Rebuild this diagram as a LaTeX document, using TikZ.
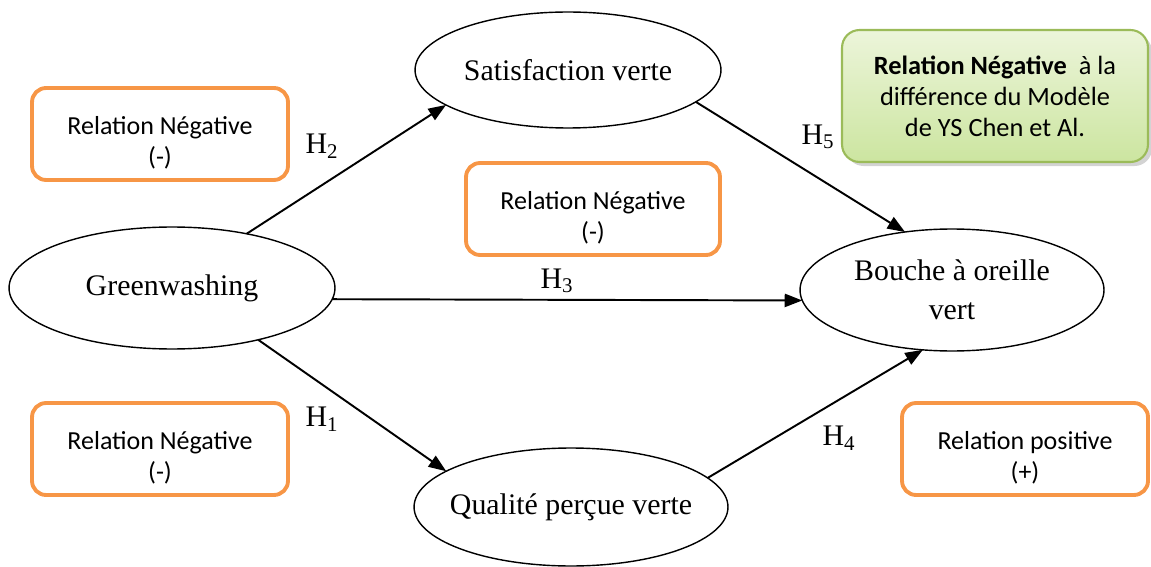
\documentclass[tikz,border=0pt]{standalone}
\usepackage{fontspec}
\setmainfont{Liberation Serif}
\newfontfamily\calibri{Carlito}
\usetikzlibrary{arrows.meta,shapes.geometric,shadows}
\definecolor{relorange}{RGB}{247,150,70}
\definecolor{vertbord}{RGB}{155,187,89}
\definecolor{verthaut}{RGB}{236,245,218}
\definecolor{vertbas}{RGB}{204,229,160}
\begin{document}
\begin{tikzpicture}[x=0.02cm, y=-0.02cm, >={Triangle[length=10pt,width=7.5pt]},
        var/.style={draw, ellipse, line width=0.8pt, inner sep=0pt, outer sep=0pt, align=center, font=\fontsize{17}{22}\selectfont},
        rel/.style={draw=relorange, line width=2.2pt, rounded corners=8pt, minimum width=#1, minimum height=1.84cm, align=center, font=\calibri\fontsize{14.8}{17.5}\selectfont},
        hyp/.style={font=\fontsize{17}{20}\selectfont},
        lien/.style={->, line width=1.1pt}]
        \useasboundingbox (0,0) rectangle (1151,567);

        % variables
        \node[var, minimum width=6.52cm, minimum height=2.44cm] (gw) at (172,288) {Greenwashing};
        \node[var, minimum width=6.12cm, minimum height=2.32cm] (sat) at (568,70) {Satisfaction verte};
        \node[var, minimum width=6.08cm, minimum height=2.44cm] (bao) at (952,290) {Bouche à oreille\\vert};
        \node[var, inner xsep=-8pt, minimum width=6.28cm, minimum height=2.36cm] (qual) at (571,507) {Qualité perçue verte};

        % cadres des relations
        \node[rel=5.12cm] (rel1) at (160,134) {\rule{0pt}{20pt}Relation Négative\\(-)};
        \node[rel=5.08cm] (rel2) at (593,209) {\rule{0pt}{20pt}Relation Négative\\(-)};
        \node[rel=5.12cm] (rel3) at (160,449) {\rule{0pt}{20pt}Relation Négative\\(-)};
        \node[rel=4.92cm] (rel4) at (1025,449) {\rule{0pt}{20pt}Relation positive\\(+)};
        \node[draw=vertbord, line width=1.2pt, rounded corners=10pt, top color=verthaut, bottom color=vertbas,
            drop shadow={opacity=0.35}, minimum width=6.12cm, minimum height=2.64cm, align=center,
            font=\calibri\fontsize{15}{17.6}\selectfont] (note) at (995,96)
            {\textbf{Relation Négative}~~à la\\différence du Modèle\\de YS Chen et Al.};

        % hypotheses
        \draw[lien] (gw.36) -- (sat.196);
        \draw[lien] (sat.-14) -- (bao.129);
        \draw[lien] (gw.-4) -- (bao.184);
        \draw[lien] (gw.-31) -- (qual.164);
        \draw[lien] (qual.12) -- (bao.244);

        \node[hyp] (h2) at (322,146) {H\textsubscript{2}};
        \node[hyp] (h5) at (818,137) {H\textsubscript{5}};
        \node[hyp] (h3) at (557,281) {H\textsubscript{3}};
        \node[hyp] (h1) at (322,419) {H\textsubscript{1}};
        \node[hyp] (h4) at (839,438) {H\textsubscript{4}};
    \end{tikzpicture}
\end{document}
